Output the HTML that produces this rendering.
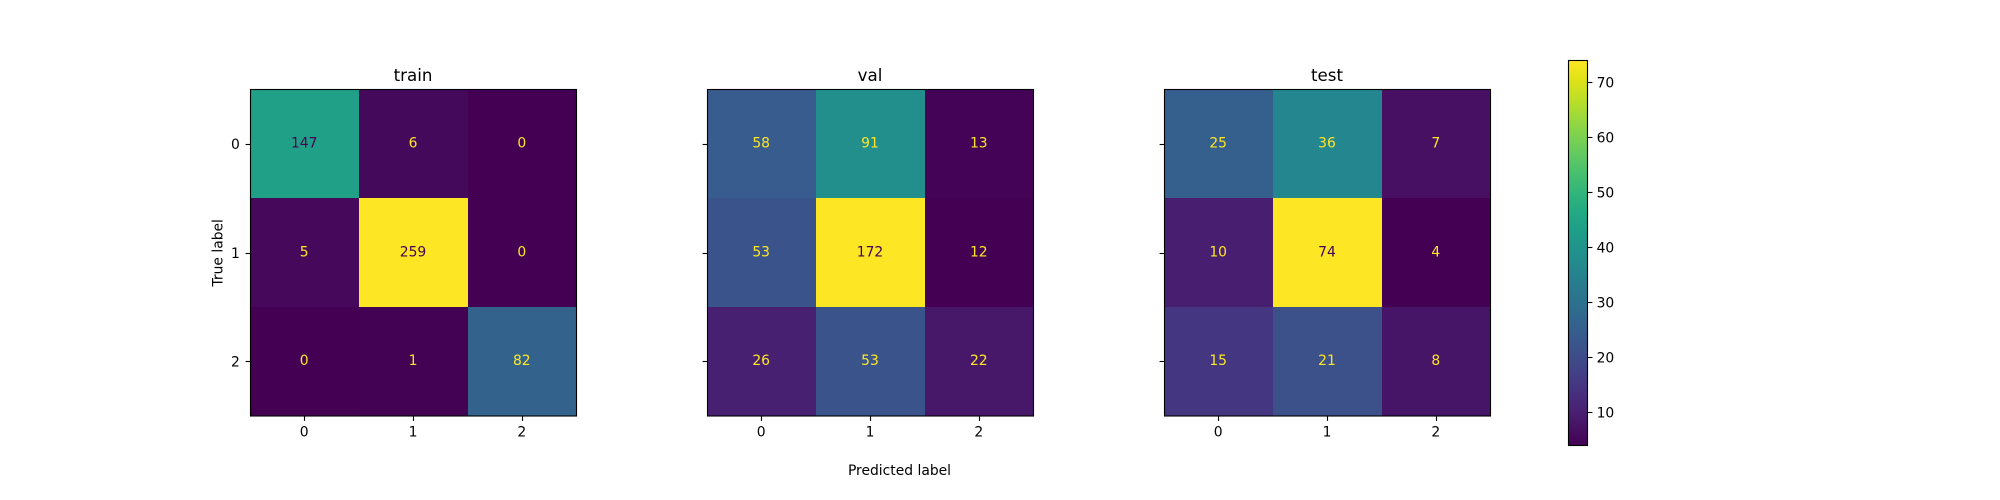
<!DOCTYPE html>
<html lang="en">
<head>
<meta charset="utf-8">
<title>Confusion matrices</title>
<style>
html,body{margin:0;padding:0;background:#fff;width:2000px;height:500px;overflow:hidden}
svg{display:block}
text{font-family:"DejaVu Sans",sans-serif;fill:#000;font-size:13.89px}
</style>
</head>
<body>
<svg id="chart" xmlns="http://www.w3.org/2000/svg" width="2000" height="500" viewBox="0 0 2000 500"></svg>
<script>
const categories = ['0', '1', '2'];
const panelTitles = ['train', 'val', 'test'];
const trainValues = [[147, 6, 0], [5, 259, 0], [0, 1, 82]];
const valValues = [[58, 91, 13], [53, 172, 12], [26, 53, 22]];
const testValues = [[25, 36, 7], [10, 74, 4], [15, 21, 8]];
const colorbarTicks = [10, 20, 30, 40, 50, 60, 70];
const yAxisTitle = 'True label';
const xAxisTitle = 'Predicted label';

const viridis = ['#440154','#471365','#482475','#463480','#414487','#3b528b','#355f8d','#2f6c8e','#2a788e','#25848e','#21918c','#1e9c89','#22a884','#2fb47c','#44bf70','#5ec962','#7ad151','#9bd93c','#bddf26','#dfe318','#fde725'];
const NS = 'http://www.w3.org/2000/svg';
const svg = document.getElementById('chart');

function make(tag, parent, attrs, txt) {
  const el = document.createElementNS(NS, tag);
  for (const k in attrs) el.setAttribute(k, attrs[k]);
  if (txt !== undefined) el.textContent = txt;
  parent.appendChild(el);
  return el;
}
function hexToRgb(h) {
  return [parseInt(h.slice(1, 3), 16), parseInt(h.slice(3, 5), 16), parseInt(h.slice(5, 7), 16)];
}
function colorAt(t) {
  const c = Math.max(0, Math.min(1, t)) * (viridis.length - 1);
  const i = Math.min(Math.floor(c), viridis.length - 2);
  const f = c - i;
  const a = hexToRgb(viridis[i]);
  const b = hexToRgb(viridis[i + 1]);
  return 'rgb(' + a.map((v, k) => Math.round(v + (b[k] - v) * f)).join(',') + ')';
}

const axesTop = 89.3;
const axesSize = 326.4;
const axesLeft = [250.3, 707.3, 1164.3];
const tickLen = 4.9;
const textShift = -0.5;
const matrices = [trainValues, valValues, testValues];

matrices.forEach(function (matrix, p) {
  const left = axesLeft[p];
  const frameLeft = Math.floor(left) + 0.5;
  const n = categories.length;
  const cell = axesSize / n;
  const xPos = i => left + cell * i;
  const yPos = i => axesTop + cell * i;
  const flat = matrix.flat();
  const vMin = Math.min.apply(null, flat);
  const vMax = Math.max.apply(null, flat);
  const norm = v => (v - vMin) / (vMax - vMin);

  const g = make('g', svg, {});
  
  

  const title = make('text', g, {x: left + axesSize / 2 + textShift, y: 81, 'text-anchor': 'middle', style: 'font-size:16.67px'}, panelTitles[p]);
  
  

  matrix.forEach(function (row, r) {
    row.forEach(function (v, c) {
      const rect = make('rect', g, {x: xPos(c), y: yPos(r), width: cell, height: cell, fill: colorAt(norm(v)), 'shape-rendering': 'crispEdges'});
      
      
    });
  });
  matrix.forEach(function (row, r) {
    row.forEach(function (v, c) {
      const label = make('text', g, {x: xPos(c) + cell / 2 + textShift, y: yPos(r) + cell / 2 + 3.9, 'text-anchor': 'middle', style: 'fill:' + colorAt(norm(v) < 0.5 ? 1 : 0)}, String(v));
      
      
    });
  });

  const frame = make('rect', g, {x: frameLeft, y: 89.5, width: 326, height: 326.5, fill: 'none', stroke: '#000', 'stroke-width': 1.11});
  
  

  categories.forEach(function (cat, i) {
    const tx = Math.floor(xPos(i) + cell / 2) + 0.5;
    const xt = make('line', g, {x1: tx, x2: tx, y1: 416, y2: 416 + tickLen, stroke: '#000', 'stroke-width': 1.11});
    
    
    const xl = make('text', g, {x: xPos(i) + cell / 2 + textShift, y: 436.3, 'text-anchor': 'middle'}, cat);
    
    

    const ty = Math.round(yPos(i) + cell / 2) + 0.5;
    const yt = make('line', g, {x1: frameLeft - tickLen, x2: frameLeft, y1: ty, y2: ty, stroke: '#000', 'stroke-width': 1.11});
    
    
    if (p === 0) {
      const yl = make('text', g, {x: left - 10.5, y: yPos(i) + cell / 2 + 5.3, 'text-anchor': 'end'}, cat);
      
      
    }
  });
});

const yTitle = make('text', svg, {x: 0, y: 0, 'text-anchor': 'middle', transform: 'translate(222.5 252.8) rotate(-90)'}, yAxisTitle);



const xTitle = make('text', svg, {x: 899.5, y: 475, 'text-anchor': 'middle'}, xAxisTitle);



/* colorbar: shares the normalisation of the last panel */
const cbLeft = 1568.5;
const cbWidth = 19;
const cbTop = 60.5;
const cbBottom = 445.5;
const cbFlat = testValues.flat();
const cbMin = Math.min.apply(null, cbFlat);
const cbMax = Math.max.apply(null, cbFlat);
const cbY = v => cbBottom - (v - cbMin) / (cbMax - cbMin) * (cbBottom - cbTop);

const defs = make('defs', svg, {});
const grad = make('linearGradient', defs, {id: 'viridis-grad', x1: 0, y1: 1, x2: 0, y2: 0});
viridis.forEach(function (c, i) {
  make('stop', grad, {offset: i / (viridis.length - 1), 'stop-color': c});
});

const cbGroup = make('g', svg, {});


const cbRect = make('rect', cbGroup, {x: cbLeft, y: cbTop, width: cbWidth, height: cbBottom - cbTop, fill: 'url(#viridis-grad)', stroke: '#000', 'stroke-width': 1.11});


colorbarTicks.forEach(function (v) {
  const y = Math.round(cbY(v) - 0.5) + 0.5;
  const t = make('line', cbGroup, {x1: cbLeft + cbWidth, x2: cbLeft + cbWidth + tickLen, y1: y, y2: y, stroke: '#000', 'stroke-width': 1.11});
  
  
  const l = make('text', cbGroup, {x: 1596.6, y: cbY(v) + 5.2}, String(v));
  
  
});
</script>
</body>
</html>
